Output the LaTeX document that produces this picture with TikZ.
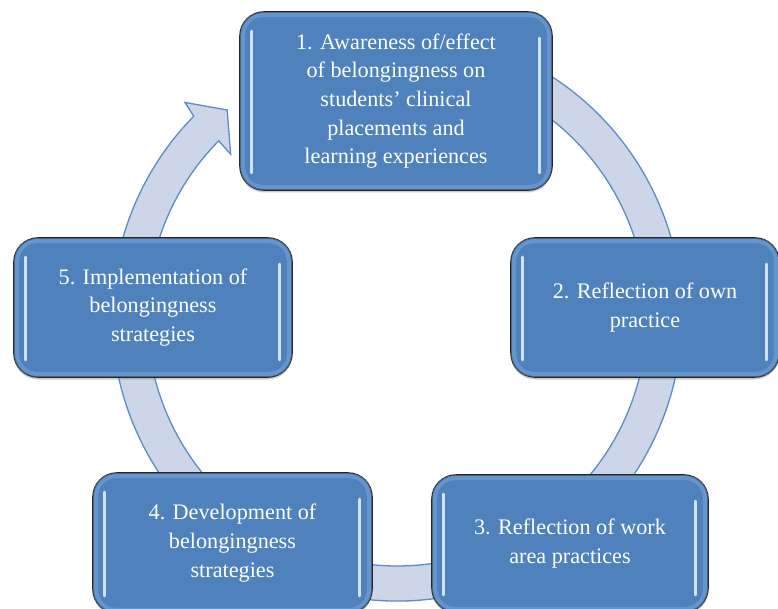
\documentclass[tikz,border=0pt]{standalone}
\usepackage{fontspec}
\newfontfamily\tnr{Liberation Serif}
\usetikzlibrary{calc,shadows}
\definecolor{boxblue}{HTML}{4F81BD}
\definecolor{ringfill}{HTML}{CDD6E9}
\definecolor{ringline}{HTML}{5B8CC8}
\definecolor{glowblue}{HTML}{80AEE6}
\definecolor{stripblue}{HTML}{CFE4FA}
\begin{document}
\begin{tikzpicture}[x=1pt,y=1pt,
  cyclebox/.style={draw=black!85, line width=1.6pt, fill=boxblue, rounded corners=24pt,
    text=white, align=center, font=\tnr\fontsize{22.2}{28.7}\selectfont, inner sep=0pt,
    drop shadow={opacity=0.4, shadow xshift=0pt, shadow yshift=-2.5pt}},
  glow/.style={draw=glowblue, line width=5pt, opacity=0.45, rounded corners=20pt},
  strip/.style={draw=stripblue, line width=3pt, line cap=round},
  ring/.style={fill=ringfill, draw=ringline, line width=1.3pt, line join=miter}]
\useasboundingbox (0,0) rectangle (778,-609);
\coordinate (C) at (397,-316);
% ring with arrow head
\draw[ring] ($(C)+(75:285pt)$) arc[start angle=75, end angle=-224.5, radius=285pt]
  -- ($(C)+(134.8:301pt)$) -- ($(C)+(129.5:267pt)$) -- ($(C)+(135.8:232pt)$)
  -- ($(C)+(-224.5:250pt)$) arc[start angle=-224.5, end angle=75, radius=250pt] -- cycle;
% boxes
\node[cyclebox, minimum width=312pt, minimum height=178pt] (b1) at (396,-101)
  {1. Awareness of/effect\\of belongingness on\\students’ clinical\\placements and\\learning experiences};
\node[cyclebox, minimum width=268pt, minimum height=139pt] (b2) at (645,-307.5)
  {2. Reflection of own\\practice};
\node[cyclebox, minimum width=276pt, minimum height=137pt] (b3) at (570,-543.5)
  {3. Reflection of work\\area practices};
\node[cyclebox, minimum width=279pt, minimum height=140pt] (b4) at (232.5,-543)
  {4. Development of\\belongingness\\strategies};
\node[cyclebox, minimum width=278pt, minimum height=139pt] (b5) at (153,-307.5)
  {5. Implementation of\\belongingness\\strategies};
\foreach \n in {b1,b2,b3,b4,b5} {
  \draw[glow] ([shift={(3.5pt,3.5pt)}]\n.south west) rectangle ([shift={(-3.5pt,-3.5pt)}]\n.north east);
  \draw[strip] ([shift={(12pt,18pt)}]\n.south west) -- ([shift={(12pt,-20pt)}]\n.north west);
  \draw[strip] ([shift={(-13pt,18pt)}]\n.south east) -- ([shift={(-13pt,-27pt)}]\n.north east);
}
\end{tikzpicture}
\end{document}
